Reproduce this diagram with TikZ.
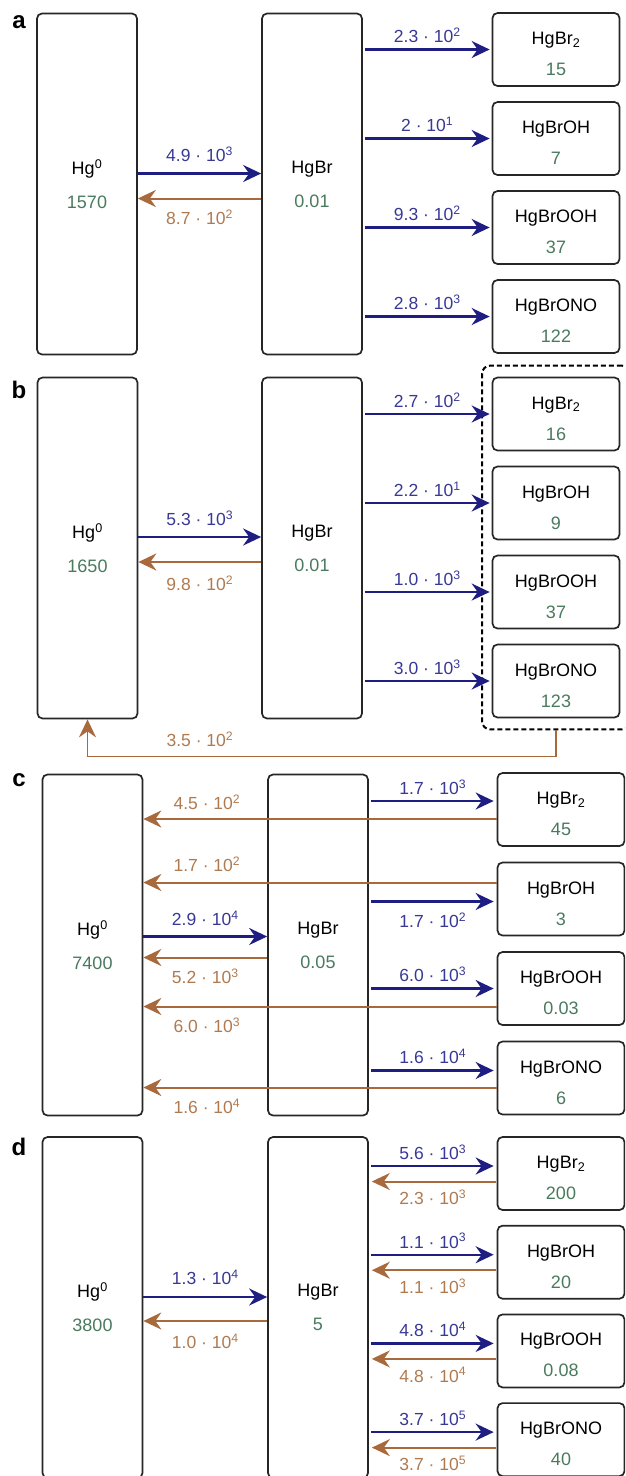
\documentclass[tikz,border=0pt]{standalone}
\usepackage{fontspec}
\setmainfont{Liberation Sans}
\usetikzlibrary{arrows.meta,fit}

\definecolor{boxline}{HTML}{262626}
\definecolor{fwdline}{HTML}{1E1E82}
\definecolor{fwdtext}{HTML}{383896}
\definecolor{bwdline}{HTML}{A8693C}
\definecolor{bwdtext}{HTML}{B07A50}
\definecolor{amount}{HTML}{4A7A5E}

\newcommand{\kval}[2]{#1 · 10\textsuperscript{#2}}
\newcommand{\amt}[1]{{\color{amount}#1}}

\begin{document}
\begin{tikzpicture}[x=1pt, y=-1pt, >={Stealth[length=18pt,width=17pt,inset=6pt]},
  bigbox/.style={draw=boxline, line width=1.7pt, rounded corners=5pt, minimum width=100pt, minimum height=341pt, align=center, font=\fontsize{18}{34}\selectfont},
  specbox/.style={draw=boxline, line width=1.7pt, rounded corners=5pt, minimum width=127pt, minimum height=73pt, align=center, font=\fontsize{18}{31}\selectfont, text height=52pt, text depth=0pt},
  fwd/.style={->, draw=fwdline, line width=2.3pt},
  bwd/.style={->, draw=bwdline, line width=2pt},
  fwdlbl/.style={text=fwdtext, font=\fontsize{17.5}{20}\selectfont},
  bwdlbl/.style={text=bwdtext, font=\fontsize{17.5}{20}\selectfont},
  panel/.style={font=\fontsize{24}{28}\selectfont\bfseries},
  grp/.style={draw=black, line width=2pt, dash pattern=on 5pt off 3pt, rounded corners=8pt, inner xsep=9.6pt, inner ysep=11pt}]
\path[use as bounding box] (0,0) rectangle (625,1476);
\clip (0,0) rectangle (625,1476);

\node[name=lbl_a, panel] at (19,22) {a};
\node[name=hg_a, bigbox] at (87,184) {Hg\textsuperscript{0}\\\amt{1570}};
\node[name=hgbr_a, bigbox] at (312,184) {HgBr\\\amt{0.01}};
\node[name=hgbr2_a, specbox] at (556,49.5) {HgBr\textsubscript{2}\\\amt{15}};
\node[name=hgbroh_a, specbox, node distance=89pt, below of=hgbr2_a] {HgBrOH\\\amt{7}};
\node[name=hgbrooh_a, specbox, node distance=89pt, below of=hgbroh_a] {HgBrOOH\\\amt{37}};
\node[name=hgbrono_a, specbox, node distance=89pt, below of=hgbrooh_a] {HgBrONO\\\amt{122}};

\draw[fwd] ([yshift=10.5pt]hg_a.east) -- ([yshift=10.5pt]hgbr_a.west) node[fwdlbl, midway, yshift=19pt] {\kval{4.9}{3}};
\draw[bwd] ([yshift=-14.5pt]hgbr_a.west) -- ([yshift=-14.5pt]hg_a.east) node[bwdlbl, midway, yshift=-19pt] {\kval{8.7}{2}};
\draw[fwd, shorten <=2pt, shorten >=2pt] (hgbr_a.east |- hgbr2_a.west) -- (hgbr2_a.west) node[fwdlbl, midway, yshift=14pt] {\kval{2.3}{2}};
\draw[fwd, shorten <=2pt, shorten >=2pt] (hgbr_a.east |- hgbroh_a.west) -- (hgbroh_a.west) node[fwdlbl, midway, yshift=14pt] {2 · 10\textsuperscript{1}};
\draw[fwd, shorten <=2pt, shorten >=2pt] (hgbr_a.east |- hgbrooh_a.west) -- (hgbrooh_a.west) node[fwdlbl, midway, yshift=14pt] {\kval{9.3}{2}};
\draw[fwd, shorten <=2pt, shorten >=2pt] (hgbr_a.east |- hgbrono_a.west) -- (hgbrono_a.west) node[fwdlbl, midway, yshift=14pt] {\kval{2.8}{3}};

\node[name=lbl_b, panel] at (19,390) {b};
\node[name=hg_b, bigbox] at (87.5,548) {Hg\textsuperscript{0}\\\amt{1650}};
\node[name=hgbr_b, bigbox] at (312,548) {HgBr\\\amt{0.01}};
\node[name=hgbr2_b, specbox] at (556,414) {HgBr\textsubscript{2}\\\amt{16}};
\node[name=hgbroh_b, specbox, node distance=89pt, below of=hgbr2_b] {HgBrOH\\\amt{9}};
\node[name=hgbrooh_b, specbox, node distance=89pt, below of=hgbroh_b] {HgBrOOH\\\amt{37}};
\node[name=hgbrono_b, specbox, node distance=89pt, below of=hgbrooh_b] {HgBrONO\\\amt{123}};
\node[name=grp_b, grp, fit=(hgbr2_b)(hgbrono_b)] {};

\draw[fwd] ([yshift=11pt]hg_b.east) -- ([yshift=11pt]hgbr_b.west) node[fwdlbl, midway, yshift=19pt] {\kval{5.3}{3}};
\draw[bwd] ([yshift=-14pt]hgbr_b.west) -- ([yshift=-14pt]hg_b.east) node[bwdlbl, midway, yshift=-21pt] {\kval{9.8}{2}};
\draw[fwd, shorten <=2pt, shorten >=2pt] (hgbr_b.east |- hgbr2_b.west) -- (hgbr2_b.west) node[fwdlbl, midway, yshift=13.5pt] {\kval{2.7}{2}};
\draw[fwd, shorten <=2pt, shorten >=2pt] (hgbr_b.east |- hgbroh_b.west) -- (hgbroh_b.west) node[fwdlbl, midway, yshift=13.5pt] {\kval{2.2}{1}};
\draw[fwd, shorten <=2pt, shorten >=2pt] (hgbr_b.east |- hgbrooh_b.west) -- (hgbrooh_b.west) node[fwdlbl, midway, yshift=13.5pt] {\kval{1.0}{3}};
\draw[fwd, shorten <=2pt, shorten >=2pt] (hgbr_b.east |- hgbrono_b.west) -- (hgbrono_b.west) node[fwdlbl, midway, yshift=13.5pt] {\kval{3.0}{3}};
\draw[bwd, line width=1.5pt] (grp_b.south) -- ++(0,26) -| (hg_b.south) node[bwdlbl, pos=0.38, yshift=17pt] {\kval{3.5}{2}};

\node[name=lbl_c, panel] at (19,780) {c};
\node[name=hg_c, bigbox] at (92.5,945) {Hg\textsuperscript{0}\\\amt{7400}};
\node[name=hgbr_c, bigbox] at (318,945) {HgBr\\\amt{0.05}};
\node[name=hgbr2_c, specbox] at (561,809.5) {HgBr\textsubscript{2}\\\amt{45}};
\node[name=hgbroh_c, specbox, node distance=89.5pt, below of=hgbr2_c] {HgBrOH\\\amt{3}};
\node[name=hgbrooh_c, specbox, node distance=89.5pt, below of=hgbroh_c] {HgBrOOH\\\amt{0.03}};
\node[name=hgbrono_c, specbox, node distance=89.5pt, below of=hgbrooh_c] {HgBrONO\\\amt{6}};

\draw[fwd] ([yshift=8.5pt]hg_c.east) -- ([yshift=8.5pt]hgbr_c.west) node[fwdlbl, midway, yshift=18pt] {\kval{2.9}{4}};
\draw[bwd] ([yshift=-12.5pt]hgbr_c.west) -- ([yshift=-12.5pt]hg_c.east) node[bwdlbl, midway, yshift=-19pt] {\kval{5.2}{3}};
\draw[fwd, shorten <=2.5pt, shorten >=3pt] ([yshift=8.5pt]hgbr_c.east |- hgbr2_c.west) -- ([yshift=8.5pt]hgbr2_c.west) node[fwdlbl, midway, yshift=14pt] {\kval{1.7}{3}};
\draw[bwd] ([yshift=-9.5pt]hgbr2_c.west) -- ([yshift=-9.5pt]hg_c.east |- hgbr2_c.west) node[bwdlbl, pos=0.82, yshift=17pt] {\kval{4.5}{2}};
\draw[bwd] ([yshift=16.5pt]hgbroh_c.west) -- ([yshift=16.5pt]hg_c.east |- hgbroh_c.west) node[bwdlbl, pos=0.82, yshift=18pt] {\kval{1.7}{2}};
\draw[fwd, shorten <=2.5pt, shorten >=3pt] ([yshift=-2.5pt]hgbr_c.east |- hgbroh_c.west) -- ([yshift=-2.5pt]hgbroh_c.west) node[fwdlbl, midway, yshift=-19pt] {\kval{1.7}{2}};
\draw[fwd, shorten <=2.5pt, shorten >=3pt] (hgbr_c.east |- hgbrooh_c.west) -- (hgbrooh_c.west) node[fwdlbl, midway, yshift=14pt] {\kval{6.0}{3}};
\draw[bwd] ([yshift=-18pt]hgbrooh_c.west) -- ([yshift=-18pt]hg_c.east |- hgbrooh_c.west) node[bwdlbl, pos=0.82, yshift=-19pt] {\kval{6.0}{3}};
\draw[fwd, shorten <=2.5pt, shorten >=3pt] ([yshift=7.5pt]hgbr_c.east |- hgbrono_c.west) -- ([yshift=7.5pt]hgbrono_c.west) node[fwdlbl, midway, yshift=14pt] {\kval{1.6}{4}};
\draw[bwd] ([yshift=-9.5pt]hgbrono_c.west) -- ([yshift=-9.5pt]hg_c.east |- hgbrono_c.west) node[bwdlbl, pos=0.82, yshift=-19pt] {\kval{1.6}{4}};

\node[name=lbl_d, panel] at (19,1147) {d};
\node[name=hg_d, bigbox] at (92.5,1307.5) {Hg\textsuperscript{0}\\\amt{3800}};
\node[name=hgbr_d, bigbox] at (318,1307.5) {HgBr\\\amt{5}};
\node[name=hgbr2_d, specbox] at (561,1173.5) {HgBr\textsubscript{2}\\\amt{200}};
\node[name=hgbroh_d, specbox, node distance=88.7pt, below of=hgbr2_d] {HgBrOH\\\amt{20}};
\node[name=hgbrooh_d, specbox, node distance=88.7pt, below of=hgbroh_d] {HgBrOOH\\\amt{0.08}};
\node[name=hgbrono_d, specbox, node distance=88.7pt, below of=hgbrooh_d] {HgBrONO\\\amt{40}};

\draw[fwd] ([yshift=10.5pt]hg_d.east) -- ([yshift=10.5pt]hgbr_d.west) node[fwdlbl, midway, yshift=20pt] {\kval{1.3}{4}};
\draw[bwd] ([yshift=-13.5pt]hgbr_d.west) -- ([yshift=-13.5pt]hg_d.east) node[bwdlbl, midway, yshift=-20pt] {\kval{1.0}{4}};
\draw[fwd, shorten <=2.5pt, shorten >=3pt] ([yshift=7.5pt]hgbr_d.east |- hgbr2_d.west) -- ([yshift=7.5pt]hgbr2_d.west) node[fwdlbl, midway, yshift=14pt] {\kval{5.6}{3}};
\draw[bwd, shorten <=1pt, shorten >=3pt] ([yshift=-8pt]hgbr2_d.west) -- ([yshift=-8pt]hgbr_d.east |- hgbr2_d.west) node[bwdlbl, midway, yshift=-16pt] {\kval{2.3}{3}};
\draw[fwd, shorten <=2.5pt, shorten >=3pt] ([yshift=7.5pt]hgbr_d.east |- hgbroh_d.west) -- ([yshift=7.5pt]hgbroh_d.west) node[fwdlbl, midway, yshift=14pt] {\kval{1.1}{3}};
\draw[bwd, shorten <=1pt, shorten >=3pt] ([yshift=-8pt]hgbroh_d.west) -- ([yshift=-8pt]hgbr_d.east |- hgbroh_d.west) node[bwdlbl, midway, yshift=-16pt] {\kval{1.1}{3}};
\draw[fwd, shorten <=2.5pt, shorten >=3pt] ([yshift=7.5pt]hgbr_d.east |- hgbrooh_d.west) -- ([yshift=7.5pt]hgbrooh_d.west) node[fwdlbl, midway, yshift=14pt] {\kval{4.8}{4}};
\draw[bwd, shorten <=1pt, shorten >=3pt] ([yshift=-8pt]hgbrooh_d.west) -- ([yshift=-8pt]hgbr_d.east |- hgbrooh_d.west) node[bwdlbl, midway, yshift=-16pt] {\kval{4.8}{4}};
\draw[fwd, shorten <=2.5pt, shorten >=3pt] ([yshift=7.5pt]hgbr_d.east |- hgbrono_d.west) -- ([yshift=7.5pt]hgbrono_d.west) node[fwdlbl, midway, yshift=14pt] {\kval{3.7}{5}};
\draw[bwd, shorten <=1pt, shorten >=3pt] ([yshift=-8pt]hgbrono_d.west) -- ([yshift=-8pt]hgbr_d.east |- hgbrono_d.west) node[bwdlbl, midway, yshift=-16pt] {\kval{3.7}{5}};
\end{tikzpicture}
\end{document}
